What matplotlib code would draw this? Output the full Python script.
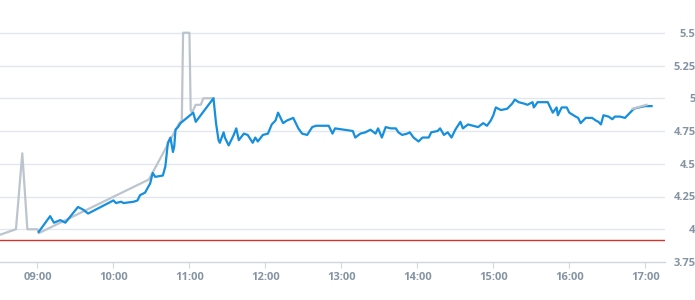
import matplotlib
matplotlib.use("Agg")
import matplotlib.pyplot as plt

# blue series (main)
blue_times = ["09:01", "09:10", "09:13", "09:18", "09:22", "09:32", "09:36", "09:40", "09:50",
              "10:00", "10:02", "10:06", "10:08", "10:16", "10:19", "10:21", "10:25", "10:29",
              "10:31", "10:33", "10:39", "10:41", "10:43", "10:45", "10:47", "10:48", "10:49",
              "10:51", "10:53", "10:58", "11:03", "11:05", "11:19", "11:21", "11:23", "11:24",
              "11:27", "11:28", "11:31", "11:35", "11:37", "11:39", "11:43", "11:46", "11:50",
              "11:52", "11:54", "11:58", "12:02", "12:05", "12:08", "12:10", "12:14", "12:17",
              "12:22", "12:26", "12:29", "12:33", "12:37", "12:40", "12:50", "12:53", "12:55",
              "13:02", "13:09", "13:11", "13:15", "13:19", "13:23", "13:27", "13:29", "13:32",
              "13:35", "13:39", "13:43", "13:45", "13:48", "13:52", "13:54", "13:57", "14:01",
              "14:04", "14:09", "14:11", "14:16", "14:18", "14:21", "14:24", "14:27", "14:30",
              "14:34", "14:36", "14:40", "14:44", "14:48", "14:52", "14:55", "14:58", "15:00",
              "15:02", "15:06", "15:11", "15:15", "15:17", "15:20", "15:24", "15:27", "15:31",
              "15:32", "15:35", "15:39", "15:43", "15:45", "15:47", "15:50", "15:51", "15:54",
              "15:58", "16:00", "16:05", "16:07", "16:09", "16:13", "16:18", "16:21", "16:23",
              "16:25", "16:27", "16:31", "16:34", "16:36", "16:40", "16:44", "16:48", "16:51",
              "16:55", "17:00", "17:05"]
blue_values = [3.98, 4.10, 4.05, 4.07, 4.05, 4.17, 4.15, 4.12, 4.17,
               4.22, 4.20, 4.21, 4.20, 4.21, 4.22, 4.26, 4.28, 4.35,
               4.43, 4.40, 4.41, 4.48, 4.66, 4.70, 4.59, 4.63, 4.76,
               4.78, 4.81, 4.85, 4.89, 4.82, 5.00, 4.81, 4.68, 4.66,
               4.74, 4.70, 4.64, 4.72, 4.77, 4.68, 4.73, 4.72, 4.66,
               4.70, 4.67, 4.72, 4.73, 4.80, 4.83, 4.89, 4.81, 4.83,
               4.85, 4.77, 4.73, 4.72, 4.78, 4.79, 4.79, 4.73, 4.77,
               4.76, 4.75, 4.70, 4.73, 4.74, 4.76, 4.73, 4.77, 4.70,
               4.78, 4.77, 4.77, 4.74, 4.72, 4.73, 4.74, 4.70, 4.67,
               4.70, 4.70, 4.74, 4.75, 4.77, 4.72, 4.74, 4.70, 4.76,
               4.82, 4.77, 4.80, 4.79, 4.78, 4.81, 4.79, 4.83, 4.87,
               4.93, 4.91, 4.92, 4.96, 4.99, 4.97, 4.96, 4.95, 4.97,
               4.93, 4.97, 4.97, 4.97, 4.93, 4.89, 4.93, 4.87, 4.93,
               4.93, 4.89, 4.86, 4.85, 4.81, 4.85, 4.85, 4.83, 4.82,
               4.80, 4.87, 4.86, 4.84, 4.86, 4.86, 4.85, 4.89, 4.92,
               4.93, 4.94, 4.94]

# gray series, shown in two pieces
gray_times = ["08:31", "08:43", "08:48", "08:52", "09:00", "09:01", "10:28", "10:52", "10:54",
              "10:55", "11:00", "11:01", "11:02", "11:05", "11:09", "11:11", "11:19"]
gray_values = [3.96, 4.00, 4.58, 4.00, 4.00, 3.97, 4.38, 4.81, 4.83,
               5.50, 5.50, 4.91, 4.89, 4.95, 4.95, 5.00, 5.00]
gray_end_times = ["16:50", "17:01"]
gray_end_values = [4.92, 4.95]

limit_value = 3.92

x_ticks = ["09:00", "10:00", "11:00", "12:00", "13:00", "14:00", "15:00", "16:00", "17:00"]
y_ticks = [3.75, 4, 4.25, 4.5, 4.75, 5, 5.25, 5.5]
y_labels = ["3.75", "4", "4.25", "4.5", "4.75", "5", "5.25", "5.5"]


def to_hours(t):
    h, m = t.split(":")
    return int(h) + int(m) / 60


label_color = "#8594a3"
plt.rcParams["font.family"] = ["Open Sans", "DejaVu Sans"]

fig = plt.figure(figsize=(6.95, 3.0), dpi=100)
ax = fig.add_axes([0, 38 / 300, 665 / 695, 262 / 300])

for y in y_ticks[1:]:
    ax.axhline(y, color="#e3e7eb", lw=1, zorder=0)
ax.axhline(limit_value, color="#d0342c", lw=1, zorder=1)

ax.plot([to_hours(t) for t in gray_times], gray_values, color="#bcc5cd", lw=1.6, zorder=2)
ax.plot([to_hours(t) for t in blue_times], blue_values, color="#168fdc", lw=1.6, zorder=3)
ax.plot([to_hours(t) for t in gray_end_times], gray_end_values, color="#bcc5cd", lw=1.6, zorder=4)

ax.set_xlim(to_hours("08:31") - 0.01, to_hours("17:15") + 0.01)
ax.set_ylim(3.75, 5.75)

ax.set_xticks([to_hours(t) for t in x_ticks])
ax.set_xticklabels(x_ticks)
ax.set_yticks(y_ticks)
ax.set_yticklabels(y_labels)

for s in ["top", "left", "right"]:
    ax.spines[s].set_visible(False)
ax.spines["bottom"].set_color("#cfd6dc")
ax.spines["bottom"].set_linewidth(1)

ax.tick_params(axis="x", length=4, width=0.8, color="#cfd6dc", pad=3,
               labelsize=8, labelcolor=label_color)
ax.tick_params(axis="y", left=False, labelleft=False, right=False, labelright=True,
               length=0, pad=22, labelsize=8, labelcolor=label_color)
for lab in ax.get_xticklabels() + ax.get_yticklabels():
    lab.set_fontweight("bold")
for lab in ax.get_yticklabels():
    lab.set_horizontalalignment("right")

fig.savefig("out.png", dpi=100)
